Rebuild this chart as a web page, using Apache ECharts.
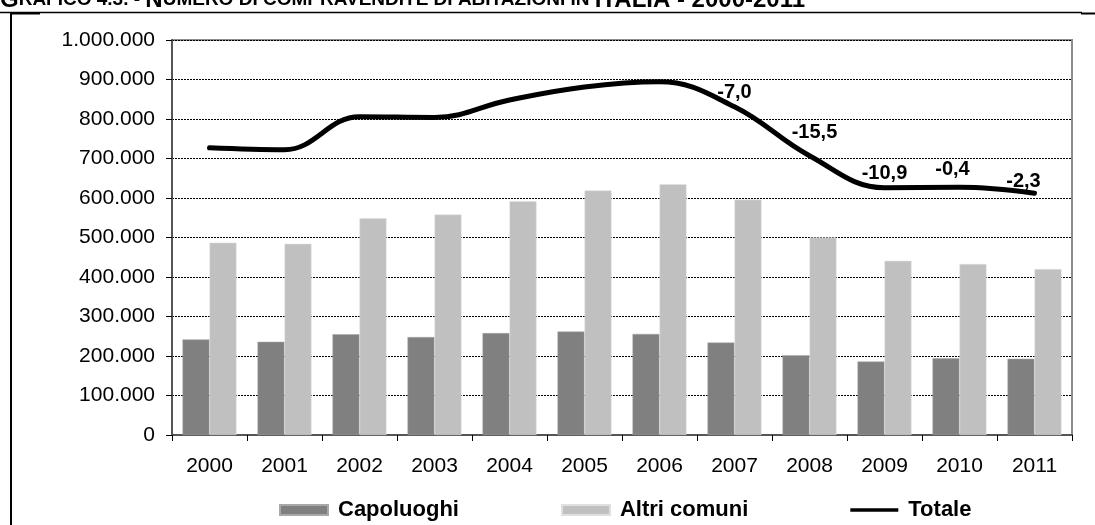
<!DOCTYPE html>
<html>
<head>
<meta charset="utf-8">
<script src="https://cdn.jsdelivr.net/npm/echarts@6/dist/echarts.min.js"></script>
<style>
html,body{margin:0;padding:0;background:#fff;}
#c{width:1095px;height:525px;}
</style>
</head>
<body>
<div id="c"></div>
<script>
var years = ['2000','2001','2002','2003','2004','2005','2006','2007','2008','2009','2010','2011'];
var capoluoghi = [242000, 236000, 255000, 248000, 258000, 262000, 256000, 234000, 202000, 186000, 194000, 193000];
var altriComuni = [487000, 484000, 549000, 558000, 592000, 619000, 635000, 596000, 500000, 441000, 433000, 420000];
var totale = [727000, 722000, 806000, 804000, 848000, 881000, 894000, 831000, 707000, 626000, 627000, 612000];
var variazioni = ['', '', '', '', '', '', '', '-7,0', '-15,5', '-10,9', '-0,4', '-2,3'];
var labelOffsets = [[0,0],[0,0],[0,0],[0,0],[0,0],[0,0],[0,0],[0,0],[5,-9],[0,0],[-7,-4],[-11,2]];

function fmt(v){ return String(v).replace(/\B(?=(\d{3})+(?!\d))/g, '.'); }

var lineData = totale.map(function(v, i){
  var o = { value: v };
  if (variazioni[i]) {
    o.label = { show: true, formatter: variazioni[i], offset: labelOffsets[i] };
  }
  return o;
});

var FONT = '"Liberation Sans", Arial, sans-serif';
var chart = echarts.init(document.getElementById('c'), null, {renderer: 'canvas'});
chart.setOption({
  animation: false,
  backgroundColor: '#fff',
  textStyle: { fontFamily: FONT, color: '#000' },
  graphic: [
    { type: 'text', x: 0, y: 12, style: {
        verticalAlign: 'bottom',
        rich: {
          b: { fontSize: 24, fontWeight: 'bold', fontFamily: FONT, fill: '#000' },
          s: { fontSize: 19, fontWeight: 'bold', fontFamily: FONT, fill: '#000' }
        },
        text: '{b|G}{s|RAFICO 4.3. - }{b|N}{s|UMERO DI COMPRAVENDITE DI ABITAZIONI IN }{b|ITALIA - 2000-2011}'
    }},
    { type: 'rect', shape: { x: 0, y: 11, width: 1095, height: 2 }, style: { fill: '#fff' } },
    { type: 'line', shape: { x1: 0, y1: 12.5, x2: 1082, y2: 12.5 }, style: { stroke: '#000', lineWidth: 1.5 } },
    { type: 'line', shape: { x1: 1081, y1: 13.5, x2: 1095, y2: 13.5 }, style: { stroke: '#000', lineWidth: 2 } },
    { type: 'line', shape: { x1: 11, y1: 12, x2: 11, y2: 525 }, style: { stroke: '#000', lineWidth: 2 } },
    { type: 'line', shape: { x1: 11, y1: 13.5, x2: 40, y2: 13.5 }, style: { stroke: '#000', lineWidth: 2 } }
  ],
  grid: { left: 172, top: 40, width: 900, height: 395, show: true, borderColor: '#8c8c8c', borderWidth: 2, backgroundColor: 'transparent' },
  legend: {
    left: 279, top: 499, padding: 0,
    itemWidth: 48, itemHeight: 10, itemGap: 102,
    textStyle: { fontSize: 22, fontWeight: 'bold', fontFamily: FONT, color: '#000', padding: [0,0,0,5] },
    data: [
      { name: 'Capoluoghi', icon: 'rect' },
      { name: 'Altri comuni', icon: 'rect' },
      { name: 'Totale', icon: 'path://M0,3H52V7H0Z' }
    ]
  },
  xAxis: {
    type: 'category', data: years, boundaryGap: true,
    axisLine: { lineStyle: { color: '#555', width: 2 } },
    axisTick: { show: true, length: 6, lineStyle: { color: '#000', width: 1 } },
    axisLabel: { fontSize: 21, color: '#000', margin: 21, fontFamily: FONT },
    splitLine: { show: false }
  },
  yAxis: {
    type: 'value', min: 0, max: 1000000, interval: 100000,
    axisLine: { show: true, lineStyle: { color: '#555', width: 2 } },
    axisTick: { show: true, length: 6, lineStyle: { color: '#000', width: 1 } },
    axisLabel: { fontSize: 21, color: '#000', margin: 17, fontFamily: FONT, formatter: fmt },
    splitLine: { show: true, lineStyle: { color: '#000', width: 1, type: [2, 1] } }
  },
  series: [
    { name: 'Capoluoghi', type: 'bar', data: capoluoghi, barWidth: 27, barGap: '0%',
      itemStyle: { color: '#808080', borderColor: '#a8a8a8', borderWidth: 0.5 } },
    { name: 'Altri comuni', type: 'bar', data: altriComuni, barWidth: 27,
      itemStyle: { color: '#c0c0c0', borderColor: '#e0e0e0', borderWidth: 0.5 } },
    { name: 'Totale', type: 'line', data: lineData, smooth: 0.4, symbol: 'circle', symbolSize: 0.1, showSymbol: true,
      lineStyle: { color: '#000', width: 5, cap: 'round', join: 'round' },
      itemStyle: { color: '#000' },
      label: { show: false, position: 'top', distance: 4, fontSize: 20, fontWeight: 'bold', color: '#000', fontFamily: FONT },
      z: 5 }
  ]
});
</script>
</body>
</html>
